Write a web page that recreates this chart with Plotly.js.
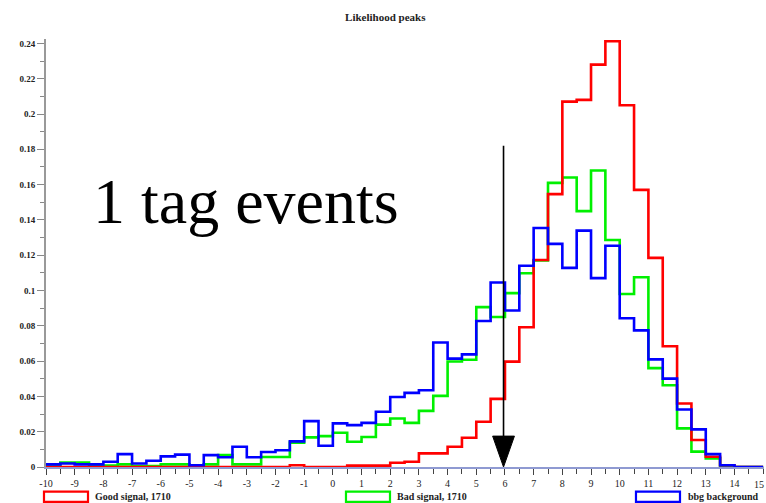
<!DOCTYPE html>
<html>
<head>
<meta charset="utf-8">
<script src="https://cdn.plot.ly/plotly-3.0.1.min.js"></script>
<style>html,body{margin:0;padding:0;background:#fff;}#chart{width:766px;height:503px;}</style>
</head>
<body>
<div id="chart"></div>
<script>
// Bin edges (bin width 0.5)
const binEdges = [-10,-9.5,-9,-8.5,-8,-7.5,-7,-6.5,-6,-5.5,-5,-4.5,-4,-3.5,-3,-2.5,-2,-1.5,-1,-0.5,
  0,0.5,1,1.5,2,2.5,3,3.5,4,4.5,5,5.5,6,6.5,7,7.5,8,8.5,9,9.5,10,10.5,11,11.5,12,12.5,13,13.5,14,14.5,15];

const xTickLabels = [-10,-9,-8,-7,-6,-5,-4,-3,-2,-1,0,1,2,3,4,5,6,7,8,9,10,11,12,13,14,15];

const seriesNames = ["Good signal, 1710", "Bad signal, 1710", "bbg background"];

const goodSignal = [0,0,0,0,0,0,0,0,0,0,
  0,0,0,0,0,0,0,0.001,0,0,
  0,0.0008,0.0008,0.0008,0.0024,0.003,0.0077,0.0077,0.0115,0.0166,
  0.0256,0.0386,0.0597,0.0792,0.1173,0.1546,0.207,0.208,0.228,0.2412,
  0.205,0.157,0.1185,0.0684,0.036,0.0153,0.0058,0.001,0,0];

const badSignal = [0.001,0.0025,0.0025,0.0008,0.0008,0.0015,0.0005,0.0005,0.0015,0.0015,
  0.0003,0.0015,0.0067,0.0015,0.0015,0.0057,0.0057,0.0138,0.0168,0.0175,
  0.0194,0.0143,0.017,0.024,0.0275,0.025,0.0318,0.0403,0.0598,0.0608,
  0.0906,0.085,0.0985,0.1098,0.117,0.161,0.164,0.145,0.168,0.1286,
  0.098,0.1075,0.056,0.0463,0.0219,0.0087,0.0049,0.0005,0,0];

const background = [0.0015,0.002,0.0015,0.0015,0.003,0.0073,0.002,0.0035,0.006,0.007,
  0.001,0.0067,0.0055,0.0115,0.0055,0.0085,0.0095,0.0145,0.026,0.012,
  0.0247,0.0237,0.025,0.0313,0.0397,0.042,0.0435,0.0705,0.0614,0.0638,
  0.0827,0.1045,0.0887,0.114,0.1354,0.1264,0.1128,0.1339,0.107,0.1254,
  0.0843,0.0774,0.061,0.0501,0.0326,0.0213,0.0073,0.001,0,0];

const colors = ["#ff0000", "#00f000", "#0000ff"];

function stepTrace(vals, name, color) {
  return {
    type: "scatter", mode: "lines", name: name,
    x: binEdges, y: vals.concat([vals[vals.length - 1]]),
    line: {shape: "hv", color: color, width: 2.6},
    cliponaxis: false, showlegend: false, hoverinfo: "x+y"
  };
}

const traces = [
  stepTrace(badSignal, seriesNames[1], colors[1]),
  stepTrace(goodSignal, seriesNames[0], colors[0]),
  stepTrace(background, seriesNames[2], colors[2])
];

// legend drawn manually (outlined boxes + labels)
const legendBoxX = [[-0.0028, 0.0585], [0.4178, 0.4791], [0.8217, 0.883]];
const legendTextX = [0.066, 0.486, 0.891];
const shapes = [];
const annotations = [];
for (let i = 0; i < 3; i++) {
  shapes.push({type: "rect", xref: "paper", yref: "paper",
    x0: legendBoxX[i][0], x1: legendBoxX[i][1], y0: -0.0575, y1: -0.0815,
    line: {color: colors[i], width: 2.2}, fillcolor: "#ffffff"});
  annotations.push({xref: "paper", yref: "paper", x: legendTextX[i], y: -0.069,
    xanchor: "left", yanchor: "middle", showarrow: false, text: seriesNames[i],
    font: {family: "Liberation Serif", size: 10, color: "#222", weight: "bold"}});
}
// arrow at the cut position
shapes.push({type: "line", xref: "x", yref: "y", x0: 5.95, x1: 5.95, y0: 0.0175, y1: 0.182,
  line: {color: "#000", width: 1.6}});
shapes.push({type: "path", xref: "x", yref: "y",
  path: "M 5.57 0.0175 L 6.33 0.0175 L 5.95 0 Z", fillcolor: "#000", line: {color: "#000", width: 1}});

annotations.push({xref: "paper", yref: "paper", x: 0.2786, y: 0.621, xanchor: "center", yanchor: "middle",
  showarrow: false, text: "1 tag events", font: {family: "Liberation Serif", size: 64, color: "#000"}});

// last x tick label at the page edge, kept inside the page
annotations.push({xref: "paper", yref: "paper", x: 1.0027, y: -0.023, xanchor: "right", yanchor: "top",
  showarrow: false, text: "15", font: {family: "Liberation Serif", size: 10, color: "#222"}});

const layout = {
  width: 766, height: 503,
  margin: {l: 46, r: 2, t: 39, b: 36},
  paper_bgcolor: "#fff", plot_bgcolor: "#fff",
  showlegend: false,
  title: {text: "Likelihood peaks", x: 0.503, xanchor: "center", y: 0.965, yanchor: "middle",
    font: {family: "Liberation Serif", size: 11, color: "#222", weight: "bold"}},
  xaxis: {
    range: [-10, 15.03], tickmode: "array", tickvals: xTickLabels.slice(0, -1), ticktext: xTickLabels.slice(0, -1).map(String),
    ticks: "outside", ticklen: 6, tickcolor: "#444", tickwidth: 1,
    showline: true, linecolor: "#8f9ad2", linewidth: 2,
    showgrid: false, zeroline: false,
    minor: {dtick: 0.5, tick0: -10, ticks: "outside", ticklen: 5, tickcolor: "#444", showgrid: false},
    tickfont: {family: "Liberation Serif", size: 10, color: "#222"}
  },
  yaxis: {
    range: [0, 0.2425], tick0: 0, dtick: 0.02,
    ticks: "outside", ticklen: 7, tickcolor: "#888", tickwidth: 1,
    showline: true, linecolor: "#999", linewidth: 2,
    showgrid: false, zeroline: false,
    minor: {dtick: 0.01, ticks: "outside", ticklen: 4, tickcolor: "#888", showgrid: false},
    tickfont: {family: "Liberation Serif", size: 9, color: "#222", weight: "bold"}
  },
  shapes: shapes,
  annotations: annotations
};

Plotly.newPlot("chart", traces, layout, {displayModeBar: false, staticPlot: true});
</script>
</body>
</html>
